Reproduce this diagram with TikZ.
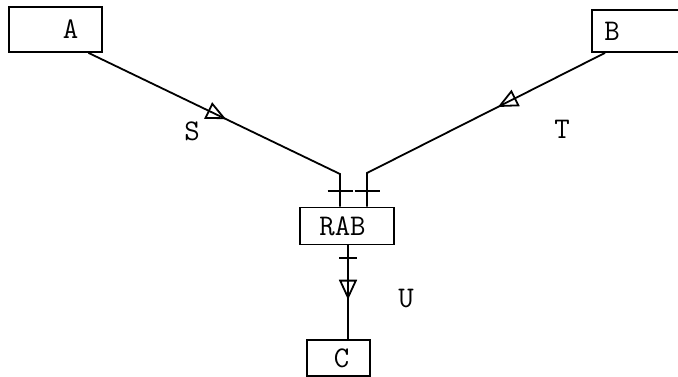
\documentclass[tikz,border=0pt]{standalone}
\usepackage{fontspec}
\usetikzlibrary{arrows.meta,decorations.markings}

\begin{document}
\begin{tikzpicture}[x=1pt, y=-1pt, every node/.style={font=\ttfamily\fontsize{30}{30}\selectfont},
    box/.style={draw, line width=1.8pt, inner sep=0pt},
    flow/.style={line width=1.8pt, postaction={decorate}, decoration={markings,
        mark=at position #1 with {\arrow[line width=1.8pt]{Triangle[open, length=20pt, width=18pt]}}}},
    tickin/.style={decoration={markings,
        mark=at position -16pt with {\draw[line width=2pt] (0,-12.5pt) -- (0,12.5pt);}}},
    tickout/.style={decoration={markings,
        mark=at position 13pt with {\draw[line width=2pt] (0,-9pt) -- (0,9pt);}}}]
    \useasboundingbox (0,0) rectangle (678,377);

    % boxes
    \node[box, minimum width=93pt, minimum height=45pt] (a) at (55.5,29.5) {\hspace*{30pt}A};
    \node[box, minimum width=96pt, minimum height=42pt] (b) at (640,31) {B\hspace*{56pt}};
    \node[box, minimum width=94pt, minimum height=37pt] (rab) at (347,226) {\hspace*{-9pt}RAB};
    \node[box, minimum width=63pt, minimum height=36pt] (c) at (338.5,358) {\hspace*{6pt}C};

    % bends
    \coordinate (sbend) at (340,174);
    \coordinate (tbend) at (367,173);

    % flows
    \draw[flow=0.49, tickin] ([xshift=33pt]a.south) -- (sbend) -- (sbend |- rab.north);
    \draw[flow=0.40, tickin] ([xshift=-35pt]b.south) -- (tbend) -- (tbend |- rab.north);
    \draw[flow=0.58, tickout] ([xshift=1pt]rab.south) -- ([xshift=1pt]rab.south |- c.north);

    % labels
    \node at (192,131) {S};
    \node at (562,129) {T};
    \node at (406,299) {U};
\end{tikzpicture}
\end{document}
